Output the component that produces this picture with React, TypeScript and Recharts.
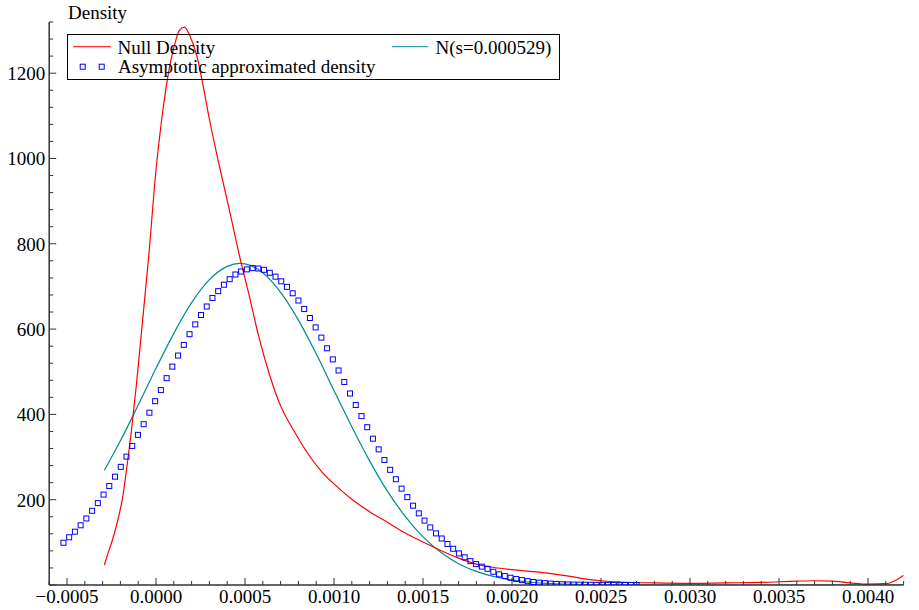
import React from 'react';
import { ComposedChart, Line, Scatter, XAxis, YAxis, Legend } from 'recharts';

// Null Density (red)
const nullX = [-0.00029, -0.00027, -0.00024, -0.00021, -0.00019, -0.000165, -0.00014, -0.00011, -0.00008, -0.00004, 0, 0.00003, 0.00007, 0.00011, 0.00013, 0.00016, 0.00019, 0.00023, 0.00026, 0.0003, 0.00036, 0.00042, 0.00047, 0.00052, 0.00058, 0.00064, 0.0007, 0.00077, 0.00085, 0.00093, 0.001, 0.0011, 0.0012, 0.0013, 0.0014, 0.0015, 0.0016, 0.0017, 0.0018, 0.0019, 0.002, 0.0021, 0.0022, 0.0023, 0.0024, 0.0025, 0.0026, 0.0028, 0.003, 0.0032, 0.0034, 0.0036, 0.0037, 0.0038, 0.0039, 0.004, 0.0041, 0.00415, 0.0042];
const nullY = [47, 74, 112, 160, 199, 272, 355, 470, 600, 775, 973, 1085, 1200, 1275, 1300, 1308, 1288, 1240, 1180, 1092, 975, 865, 770, 685, 578, 490, 420, 365, 310, 266, 237, 201, 172, 147, 122, 101, 81, 63, 49, 41, 36, 32, 28, 22, 15, 10, 7, 5, 4, 5, 6, 9, 10, 9, 5, 2, 3, 10, 23];

// N(s=0.000529) (teal)
const normX = [-0.00029, -0.0002, -0.0001, 0, 0.0001, 0.0002, 0.0003, 0.0004, 0.00047, 0.0005, 0.0006, 0.0007, 0.0008, 0.0009, 0.001, 0.0011, 0.0012, 0.0013, 0.0014, 0.0015, 0.0016, 0.0017, 0.0018, 0.0019, 0.002, 0.0021, 0.0022, 0.0023, 0.0024, 0.0025, 0.0026, 0.0028, 0.003, 0.0035, 0.004, 0.0042];
const normY = [269, 338, 422, 508, 590, 662, 716, 747, 754, 753, 732, 686, 621, 542, 456, 371, 291, 220, 161, 113, 77, 50, 32, 19.5, 11.5, 6.5, 3.6, 1.9, 1, 0.5, 0.2, 0.05, 0, 0, 0, 0];

// Asymptotic approximated density (blue squares)
const asymX = [
  -0.00052, -0.0004878, -0.0004556, -0.0004234, -0.0003912, -0.000359, -0.0003268, -0.0002946, -0.0002624, -0.0002302,
  -0.000198, -0.0001658, -0.0001336, -0.0001014, -0.0000692, -0.000037, -0.0000048, 0.0000274, 0.0000596, 0.0000918,
  0.000124, 0.0001562, 0.0001884, 0.0002206, 0.0002528, 0.000285, 0.0003172, 0.0003494, 0.0003816, 0.0004138,
  0.000446, 0.0004782, 0.0005104, 0.0005426, 0.0005748, 0.000607, 0.0006392, 0.0006714, 0.0007036, 0.0007358,
  0.000768, 0.0008002, 0.0008324, 0.0008646, 0.0008968, 0.000929, 0.0009612, 0.0009934, 0.0010256, 0.0010578,
  0.00109, 0.0011222, 0.0011544, 0.0011866, 0.0012188, 0.001251, 0.0012832, 0.0013154, 0.0013476, 0.0013798,
  0.001412, 0.0014442, 0.0014764, 0.0015086, 0.0015408, 0.001573, 0.0016052, 0.0016374, 0.0016696, 0.0017018,
  0.001734, 0.0017662, 0.0017984, 0.0018306, 0.0018628, 0.001895, 0.0019272, 0.0019594, 0.0019916, 0.0020238,
  0.002056, 0.0020882, 0.0021204, 0.0021526, 0.0021848, 0.002217, 0.0022492, 0.0022814, 0.0023136, 0.0023458,
  0.002378, 0.0024102, 0.0024424, 0.0024746, 0.0025068, 0.002539, 0.0025712, 0.0026034, 0.0026356, 0.0026678,
  0.0027,
];
const asymY = [
  99, 112, 125, 140, 156, 174, 192, 212, 232, 254,
  277, 301, 326, 352, 377, 404, 431, 457, 485, 512,
  538, 563, 588, 611, 633, 653, 673, 689, 704, 717,
  728, 735, 740, 743, 742, 739, 732, 723, 712, 699,
  684, 667, 647, 626, 604, 580, 555, 529, 503, 476,
  449, 422, 396, 370, 343, 318, 293, 270, 248, 226,
  206, 186, 168, 151, 135, 121, 109, 96, 85, 74,
  65, 56, 49, 43, 38, 31, 25, 21, 17, 14,
  11.5, 9, 7, 5.5, 4.3, 3.3, 2.5, 1.8, 1.3, 1,
  0.8, 0.6, 0.5, 0.4, 0.3, 0.25, 0.2, 0.15, 0.1, 0.1,
  0.05,
];

const xTicks = [-0.0006, -0.0005, -0.0004, -0.0003, -0.0002, -0.0001, 0, 0.0001, 0.0002, 0.0003, 0.0004, 0.0005, 0.0006, 0.0007, 0.0008, 0.0009, 0.001, 0.0011, 0.0012, 0.0013, 0.0014, 0.0015, 0.0016, 0.0017, 0.0018, 0.0019, 0.002, 0.0021, 0.0022, 0.0023, 0.0024, 0.0025, 0.0026, 0.0027, 0.0028, 0.0029, 0.003, 0.0031, 0.0032, 0.0033, 0.0034, 0.0035, 0.0036, 0.0037, 0.0038, 0.0039, 0.004, 0.0041, 0.0042];
const yTicks = [0, 40, 80, 120, 160, 200, 240, 280, 320, 360, 400, 440, 480, 520, 560, 600, 640, 680, 720, 760, 800, 840, 880, 920, 960, 1000, 1040, 1080, 1120, 1160, 1200, 1240, 1280, 1320];

const yAxisTitle = 'Density';
const legendNull = 'Null Density';
const legendNorm = 'N(s=0.000529)';
const legendAsym = 'Asymptotic approximated density';

const FONT = 'Liberation Serif, Times New Roman, serif';
const AXIS = '#333';
const RED = '#ff0000';
const TEAL = '#008b8b';
const BLUE = '#0000ff';

const nullData = nullX.map((x, i) => ({ x, y: nullY[i] }));
const normData = normX.map((x, i) => ({ x, y: normY[i] }));
const asymData = asymX.map((x, i) => ({ x, y: asymY[i] }));

const isXMajor = (v: number) => Math.round(v * 10000) % 5 === 0;
const fmtX = (v: number) => {
  const s = Math.abs(v).toFixed(4);
  return v < -1e-12 ? '\u2212' + s : s;
};

const XTick = (props: any) => {
  const { x, y, payload } = props;
  const v = payload.value as number;
  const major = isXMajor(v);
  return (
    <g>
      <line x1={x} x2={x} y1={y} y2={y - (major ? 7 : 4)} stroke={AXIS} strokeWidth={1} />
      {major && (
        <text x={x} y={y + 18} textAnchor="middle" fontFamily={FONT} fontSize={19} fill="#000">
          {fmtX(v)}
        </text>
      )}
    </g>
  );
};

const YTick = (props: any) => {
  const { x, y, payload } = props;
  const v = payload.value as number;
  const major = Math.round(v) % 200 === 0;
  return (
    <g>
      <line x1={x} x2={x + (major ? 7 : 4)} y1={y} y2={y} stroke={AXIS} strokeWidth={1} />
      {major && v > 0 && (
        <text x={x - 4} y={y + 7} textAnchor="end" fontFamily={FONT} fontSize={19} fill="#000">
          {String(v)}
        </text>
      )}
    </g>
  );
};

const SquareShape = (props: any) => {
  const { cx, cy } = props;
  if (cx == null || cy == null) return null;
  return <rect x={cx - 2.5} y={cy - 2.5} width={5} height={5} fill="none" stroke={BLUE} strokeWidth={1} />;
};

const LegendBox = () => (
  <svg width={493} height={46} style={{ display: 'block', overflow: 'visible' }}>
    <rect x={0.5} y={0.5} width={492} height={45} fill="none" stroke="#000" strokeWidth={1} />
    <line x1={6} x2={44} y1={12.7} y2={12.7} stroke={RED} strokeWidth={1} />
    <text x={50.5} y={20} fontFamily={FONT} fontSize={19} fill="#000">{legendNull}</text>
    <line x1={325} x2={361} y1={12.7} y2={12.7} stroke={TEAL} strokeWidth={1} />
    <text x={368.5} y={20} fontFamily={FONT} fontSize={19} fill="#000">{legendNorm}</text>
    <rect x={13.2} y={30.2} width={5} height={5} fill="none" stroke={BLUE} strokeWidth={1} />
    <rect x={32.2} y={30.2} width={5} height={5} fill="none" stroke={BLUE} strokeWidth={1} />
    <text x={51} y={38.7} fontFamily={FONT} fontSize={19} fill="#000">{legendAsym}</text>
  </svg>
);

export default function App() {
  return (
    <div style={{ position: 'absolute', left: 0, top: 0, width: 919, height: 610, background: '#fff' }}>
      <ComposedChart width={919} height={610} margin={{ top: 22, right: 15.4, bottom: 0, left: 0 }}>
        <XAxis
          dataKey="x"
          type="number"
          domain={[-0.0006, 0.0042]}
          allowDataOverflow
          ticks={xTicks}
          interval={0}
          height={25}
          tickSize={0}
          tickMargin={0}
          tickLine={false}
          axisLine={{ stroke: AXIS, strokeWidth: 1.5 }}
          tick={<XTick />}
        />
        <YAxis
          dataKey="y"
          type="number"
          domain={[0, 1320]}
          allowDataOverflow
          ticks={yTicks}
          interval={0}
          width={49.2}
          tickSize={0}
          tickMargin={0}
          tickLine={false}
          axisLine={{ stroke: AXIS, strokeWidth: 1.5 }}
          tick={<YTick />}
          label={{
            content: () => (
              <text x={68} y={19} fontFamily={FONT} fontSize={19} fill="#000">{yAxisTitle}</text>
            ),
          }}
        />
        <Legend
          layout="horizontal"
          verticalAlign="middle"
          align="center"
          wrapperStyle={{ top: 34, left: 67, width: 493, height: 46 }}
          content={() => <LegendBox />}
        />
        <Line data={normData} dataKey="y" type="monotone" stroke={TEAL} strokeWidth={1.2} dot={false} isAnimationActive={false} />
        <Line data={nullData} dataKey="y" type="monotone" stroke={RED} strokeWidth={1.2} dot={false} isAnimationActive={false} />
        <Scatter data={asymData} dataKey="y" shape={<SquareShape />} isAnimationActive={false} />
      </ComposedChart>
    </div>
  );
}
